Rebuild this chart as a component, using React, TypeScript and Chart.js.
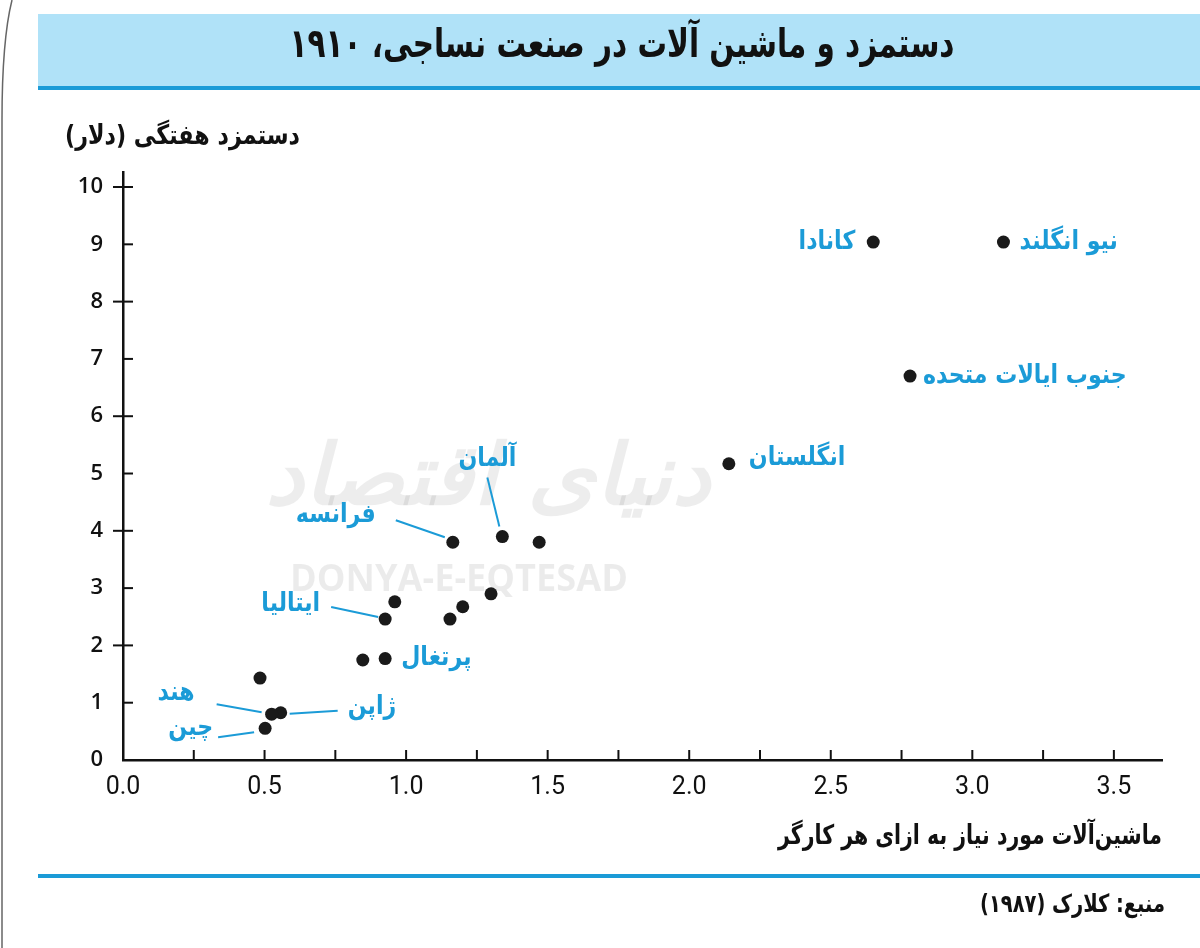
import React, { useEffect, useRef } from "react";
import { Chart, registerables } from "chart.js";

Chart.register(...registerables);

// ---- data ----
const countryNames = [
  "نیو انگلند", "کانادا", "جنوب ایالات متحده", "انگلستان", "آلمان", "فرانسه",
  "", "", "ایتالیا", "", "", "", "پرتغال", "", "", "ژاپن", "هند", "چین",
];
const machineryPerWorker = [
  3.11, 2.65, 2.78, 2.14, 1.34, 1.165, 1.47, 0.96, 0.926, 1.30, 1.20, 1.155, 0.926, 0.847, 0.484, 0.557, 0.525, 0.502,
];
const weeklyWage = [
  9.04, 9.04, 6.70, 5.17, 3.90, 3.80, 3.80, 2.76, 2.46, 2.90, 2.675, 2.46, 1.77, 1.745, 1.43, 0.825, 0.80, 0.553,
];
const xTickValues = [0, 0.5, 1.0, 1.5, 2.0, 2.5, 3.0, 3.5];
const yTickValues = [0, 1, 2, 3, 4, 5, 6, 7, 8, 9, 10];

const titleText = "دستمزد و ماشین آلات در صنعت نساجی، ۱۹۱۰";
const yAxisTitle = "دستمزد هفتگی (دلار)";
const xAxisTitle = "ماشین‌آلات مورد نیاز به ازای هر کارگر";
const sourceText = "منبع: کلارک (۱۹۸۷)";

// ---- label styling (offsets in px relative to the point) ----
type LabelStyle = { align: CanvasTextAlign; dx: number; dy: number; line?: [number, number, number, number] };
const labelStyles: Record<number, LabelStyle> = {
  0: { align: "left", dx: 16, dy: 0 },
  1: { align: "right", dx: -18, dy: 0 },
  2: { align: "left", dx: 13, dy: 0 },
  3: { align: "left", dx: 20, dy: -6 },
  4: { align: "center", dx: -15, dy: -77, line: [-15, -59, -3, -10] },
  5: { align: "right", dx: -77, dy: -27, line: [-57, -22, -8, -5] },
  8: { align: "right", dx: -65, dy: -15, line: [-54, -12, -7, -2] },
  12: { align: "left", dx: 16, dy: 0 },
  15: { align: "left", dx: 67, dy: -5, line: [9, 1, 57, -2] },
  16: { align: "right", dx: -77, dy: -21, line: [-55, -10, -10, -2] },
  17: { align: "right", dx: -52, dy: 0, line: [-47, 9, -11, 4] },
};

const BLUE = "#1b9bd7";
const BAND = "#b0e2f8";
const PERSIAN = "'DejaVu Sans', sans-serif";

function fillScaled(
  ctx: CanvasRenderingContext2D, text: string, x: number, y: number,
  align: CanvasTextAlign, sx: number,
) {
  ctx.save();
  ctx.translate(x, y);
  ctx.scale(sx, 1);
  ctx.textAlign = align;
  ctx.fillText(text, 0, 0);
  ctx.restore();
}

function fillToWidth(
  ctx: CanvasRenderingContext2D, text: string, x: number, y: number,
  align: CanvasTextAlign, width: number,
) {
  const w = ctx.measureText(text).width;
  fillScaled(ctx, text, x, y, align, width / w);
}

const decorPlugin = {
  id: "decor",
  beforeDraw(chart: any) {
    const ctx = chart.ctx as CanvasRenderingContext2D;
    ctx.save();
    ctx.fillStyle = "#fff";
    ctx.fillRect(0, 0, chart.width, chart.height);
    // left border artifact
    ctx.strokeStyle = "#666";
    ctx.lineWidth = 1.5;
    ctx.beginPath();
    ctx.moveTo(12, 0);
    ctx.quadraticCurveTo(2, 40, 2, 120);
    ctx.lineTo(2, 948);
    ctx.stroke();
    // title band
    ctx.fillStyle = BAND;
    ctx.fillRect(38, 14, 1162, 72);
    ctx.fillStyle = BLUE;
    ctx.fillRect(38, 86, 1162, 4);
    ctx.fillRect(38, 874, 1162, 4);
    ctx.direction = "rtl";
    ctx.textBaseline = "middle";
    ctx.fillStyle = "#111";
    ctx.font = `bold 40px ${PERSIAN}`;
    fillToWidth(ctx, titleText, 622, 47, "center", 665);
    ctx.font = `bold 27px ${PERSIAN}`;
    fillToWidth(ctx, yAxisTitle, 300, 137, "right", 235);
    fillToWidth(ctx, xAxisTitle, 1162, 837, "right", 384);
    ctx.font = `bold 25px ${PERSIAN}`;
    fillToWidth(ctx, sourceText, 1165, 905, "right", 185);
    // watermark
    ctx.fillStyle = "rgba(0,0,0,0.07)";
    ctx.font = `bold italic 84px ${PERSIAN}`;
    fillToWidth(ctx, "دنیای اقتصاد", 488, 482, "center", 445);
    ctx.direction = "ltr";
    ctx.fillStyle = "rgba(0,0,0,0.08)";
    ctx.font = "bold 38px 'Open Sans', sans-serif";
    fillToWidth(ctx, "DONYA-E-EQTESAD", 459, 580, "center", 338);
    ctx.restore();
  },
  afterDraw(chart: any) {
    const ctx = chart.ctx as CanvasRenderingContext2D;
    const xs = chart.scales.x;
    const ys = chart.scales.y;
    const area = chart.chartArea;
    ctx.save();
    ctx.strokeStyle = "#111";
    ctx.lineWidth = 2;
    // x ticks every 0.25 pointing up
    for (let v = 0.25; v <= 3.5001; v += 0.25) {
      const px = xs.getPixelForValue(v);
      ctx.beginPath();
      ctx.moveTo(px, area.bottom);
      ctx.lineTo(px, area.bottom - 10);
      ctx.stroke();
    }
    // y ticks
    for (let v = 1; v <= 10; v++) {
      const py = ys.getPixelForValue(v);
      ctx.beginPath();
      ctx.moveTo(area.left - (v % 2 === 0 ? 10 : 0), py);
      ctx.lineTo(area.left + 10, py);
      ctx.stroke();
    }
    // labels
    const meta = chart.getDatasetMeta(0);
    ctx.direction = "rtl";
    ctx.textBaseline = "middle";
    ctx.font = `bold 26px ${PERSIAN}`;
    Object.keys(labelStyles).forEach((k) => {
      const i = Number(k);
      const st = labelStyles[i];
      const el = meta.data[i];
      if (!el) return;
      const px = el.x;
      const py = el.y;
      if (st.line) {
        ctx.strokeStyle = BLUE;
        ctx.lineWidth = 2;
        ctx.beginPath();
        ctx.moveTo(px + st.line[0], py + st.line[1]);
        ctx.lineTo(px + st.line[2], py + st.line[3]);
        ctx.stroke();
      }
      ctx.fillStyle = BLUE;
      fillScaled(ctx, countryNames[i], px + st.dx, py + st.dy, st.align, 0.85);
    });
    ctx.restore();
  },
};

export default function App() {
  const ref = useRef<HTMLCanvasElement | null>(null);
  useEffect(() => {
    if (!ref.current) return;
    const chart = new Chart(ref.current, {
      type: "scatter",
      data: {
        datasets: [
          {
            data: machineryPerWorker.map((x, i) => ({ x, y: weeklyWage[i] })),
            pointRadius: 6.5,
            pointHoverRadius: 6.5,
            backgroundColor: "#1a1a1a",
            borderWidth: 0,
          },
        ],
      },
      options: {
        animation: false,
        responsive: false,
        events: [],
        layout: { padding: { top: 172.7, right: 38, left: 0, bottom: 0 } },
        plugins: { legend: { display: false }, tooltip: { enabled: false } },
        scales: {
          x: {
            type: "linear",
            min: 0,
            max: 3.67,
            afterFit: (s: any) => { s.height = 188; },
            afterBuildTicks: (s: any) => { s.ticks = xTickValues.map((v) => ({ value: v })); },
            ticks: {
              autoSkip: false,
              maxRotation: 0,
              padding: 13,
              color: "#111",
              font: { family: "'Roboto', sans-serif", size: 25 },
              callback: (v: any) => Number(v).toFixed(1),
            },
            grid: { drawOnChartArea: false, drawTicks: false },
            border: { color: "#111", width: 2.5 },
          },
          y: {
            type: "linear",
            min: 0,
            max: 10.25,
            afterFit: (s: any) => { s.width = 123; },
            afterBuildTicks: (s: any) => { s.ticks = yTickValues.map((v) => ({ value: v })); },
            ticks: {
              autoSkip: false,
              padding: 20,
              color: "#111",
              font: { family: "'Open Sans', sans-serif", size: 22, weight: 600 },
              callback: (v: any) => String(v),
            },
            grid: { drawOnChartArea: false, drawTicks: false },
            border: { color: "#111", width: 2.5 },
          },
        },
      },
      plugins: [decorPlugin],
    });
    return () => chart.destroy();
  }, []);
  return (
    <div style={{ position: "absolute", left: 0, top: 0, width: 1200, height: 948, background: "#fff" }}>
      <canvas ref={ref} width={1200} height={948} style={{ width: 1200, height: 948, display: "block" }} />
    </div>
  );
}
